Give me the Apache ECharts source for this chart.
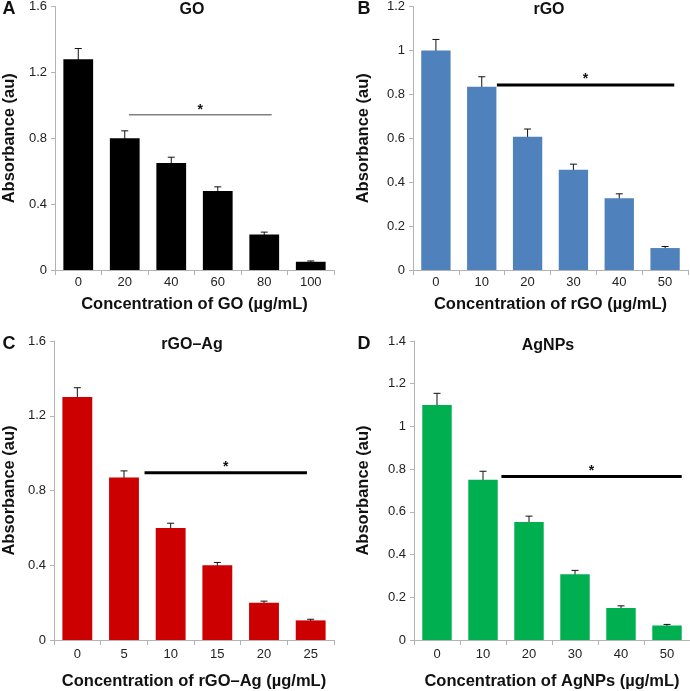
<!DOCTYPE html>
<html><head><meta charset="utf-8">
<script src="https://cdn.jsdelivr.net/npm/echarts@6/dist/echarts.min.js"></script>
<style>html,body{margin:0;padding:0;background:#fff}#c{width:690px;height:691px}</style>
</head><body><div id="c"></div>
<script>
// ---- data ----
const catA = ['0','20','40','60','80','100'];
const valA = [1.28, 0.80, 0.65, 0.48, 0.215, 0.05];
const errA = [0.065, 0.045, 0.035, 0.025, 0.015, 0.005];
const sigA = [1.09, 4.16, 0.943]; // start idx, end idx, y

const catB = ['0','10','20','30','40','50'];
const valB = [1.00, 0.835, 0.607, 0.457, 0.327, 0.10];
const errB = [0.05, 0.045, 0.035, 0.025, 0.02, 0.007];
const sigB = [1.33, 5.20, 0.843];

const catC = ['0','5','10','15','20','25'];
const valC = [1.30, 0.87, 0.60, 0.40, 0.20, 0.105];
const errC = [0.05, 0.035, 0.025, 0.015, 0.008, 0.006];
const sigC = [1.44, 4.92, 0.895];

const catD = ['0','10','20','30','40','50'];
const valD = [1.10, 0.75, 0.552, 0.308, 0.15, 0.068];
const errD = [0.055, 0.04, 0.028, 0.018, 0.01, 0.005];
const sigD = [1.40, 5.32, 0.766];

const titles = ['GO', 'rGO', 'rGO–Ag', 'AgNPs'];
const letters = ['A', 'B', 'C', 'D'];
const xNames = ['Concentration of GO (µg/mL)', 'Concentration of rGO (µg/mL)', 'Concentration of rGO–Ag (µg/mL)', 'Concentration of AgNPs (µg/mL)'];
const yName = 'Absorbance (au)';
const yMax = [1.6, 1.2, 1.6, 1.4];
const yStep = [0.4, 0.2, 0.4, 0.2];

// ---- style ----
const FONT = '"Liberation Sans", Arial, sans-serif';
const colors = ['#000000', '#4f81bd', '#cc0000', '#00b050'];
const sigColors = ['#808080', '#000000', '#000000', '#000000'];
const sigWidths = [1.4, 3, 3, 3];
const grids = [
  {left: 54, top: 6, width: 280, height: 264},
  {left: 413, top: 5, width: 275, height: 265},
  {left: 53, top: 341, width: 281, height: 300},
  {left: 414, top: 341, width: 276, height: 300}
];
const yNameGap = [37, 41, 36, 42];
const xNameGap = [26, 26, 33, 33];
const xLabelMargin = [6, 6, 8, 8];
const titlePos = [[192, 10], [549, 10], [192, 345], [548, 346]];
const letterPos = [[9, 9], [364, 9], [9, 344], [364, 344]];

const cats = [catA, catB, catC, catD];
const vals = [valA, valB, valC, valD];
const errs = [errA, errB, errC, errD];
const sigs = [sigA, sigB, sigC, sigD];

const axisGray = '#b3b3b3';
const xAxis = [], yAxis = [], series = [], graphic = [];
for (let k = 0; k < 4; k++) {
  xAxis.push({
    type: 'category', gridIndex: k, data: cats[k],
    axisLine: {show: true, lineStyle: {color: axisGray, width: 1}},
    axisTick: {show: true, length: 5, lineStyle: {color: axisGray}},
    axisLabel: {color: '#222', fontSize: 13, fontFamily: FONT, margin: xLabelMargin[k]},
    name: xNames[k], nameLocation: 'middle', nameGap: xNameGap[k],
    nameTextStyle: {color: '#111', fontSize: 16.5, fontWeight: 'bold', fontFamily: FONT},
    splitLine: {show: false}
  });
  yAxis.push({
    type: 'value', gridIndex: k, min: 0, max: yMax[k], interval: yStep[k],
    axisLine: {show: true, lineStyle: {color: axisGray, width: 1}},
    axisTick: {show: true, length: 4, lineStyle: {color: axisGray}},
    axisLabel: {color: '#222', fontSize: 13, fontFamily: FONT, margin: 8},
    name: yName, nameLocation: 'middle', nameGap: yNameGap[k],
    nameTextStyle: {color: '#111', fontSize: 16.5, fontWeight: 'bold', fontFamily: FONT},
    splitLine: {show: false}
  });
  series.push({
    type: 'bar', xAxisIndex: k, yAxisIndex: k, data: vals[k],
    barCategoryGap: '36%', itemStyle: {color: colors[k]}, silent: true, animation: false
  });
  series.push({
    type: 'custom', xAxisIndex: k, yAxisIndex: k, animation: false, silent: true,
    data: vals[k].map((v, i) => [i, v, errs[k][i]]),
    encode: {x: 0, y: 1},
    renderItem: function (params, api) {
      const x = api.value(0), v = api.value(1), e = api.value(2);
      const hi = api.coord([x, v + e]), lo = api.coord([x, v - e]);
      const hw = 3.5;
      const st = {stroke: '#111', lineWidth: 1};
      return {type: 'group', children: [
        {type: 'line', shape: {x1: hi[0], y1: hi[1], x2: lo[0], y2: lo[1]}, style: st},
        {type: 'line', shape: {x1: hi[0] - hw, y1: hi[1], x2: hi[0] + hw, y2: hi[1]}, style: st},
        {type: 'line', shape: {x1: lo[0] - hw, y1: lo[1], x2: lo[0] + hw, y2: lo[1]}, style: st}
      ]};
    }
  });
  const sg = sigs[k];
  const sc = sigColors[k], sw = sigWidths[k];
  series.push({
    type: 'custom', xAxisIndex: k, yAxisIndex: k, animation: false, silent: true,
    data: [[0, sg[2], sg[0], sg[1]]],
    encode: {x: 0, y: 1},
    renderItem: function (params, api) {
      const p0 = api.coord([0, api.value(1)]);
      const bw = api.size([1, 0])[0];
      const xs = p0[0] + api.value(2) * bw, xe = p0[0] + api.value(3) * bw;
      return {type: 'group', children: [
        {type: 'line', shape: {x1: xs, y1: p0[1], x2: xe, y2: p0[1]}, style: {stroke: sc, lineWidth: sw}},
        {type: 'text', x: (xs + xe) / 2, y: p0[1] - 4 - sw / 2,
         style: {text: '*', fill: '#111', font: 'bold 14px ' + FONT, textAlign: 'center', textVerticalAlign: 'middle'}}
      ]};
    }
  });
  graphic.push({type: 'text', x: titlePos[k][0], y: titlePos[k][1],
    style: {text: titles[k], fill: '#111', font: 'bold 16px ' + FONT, textAlign: 'center', textVerticalAlign: 'middle'}});
  graphic.push({type: 'text', x: letterPos[k][0], y: letterPos[k][1],
    style: {text: letters[k], fill: '#111', font: 'bold 18px ' + FONT, textAlign: 'center', textVerticalAlign: 'middle'}});
}

const chart = echarts.init(document.getElementById('c'), null, {renderer: 'canvas'});
chart.setOption({animation: false, grid: grids, xAxis, yAxis, series, graphic});
</script>
</body></html>
